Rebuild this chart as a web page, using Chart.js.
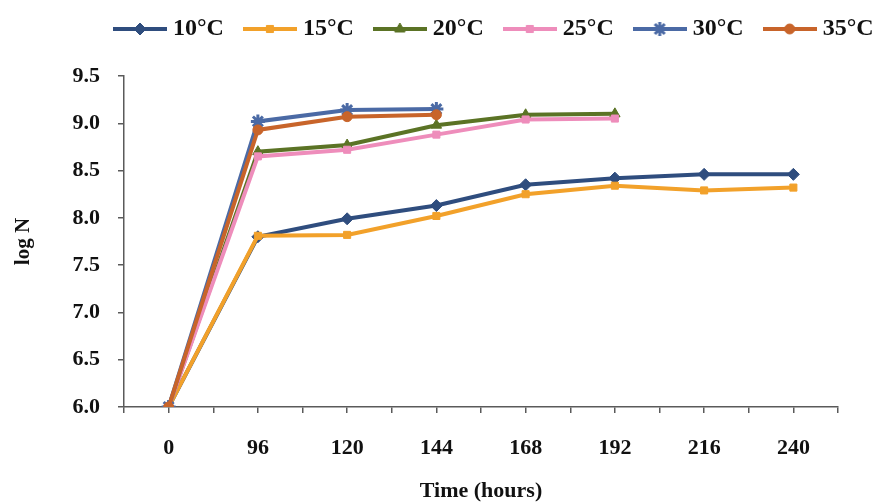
<!DOCTYPE html>
<html>
<head>
<meta charset="utf-8">
<script src="https://cdn.jsdelivr.net/npm/chart.js@4/dist/chart.umd.min.js"></script>
<style>
  body { margin: 0; background: #fff; }
  #wrap { width: 876px; height: 502px; }
</style>
</head>
<body>
<div id="wrap"><canvas id="growthChart"></canvas></div>
<script>
// sampling times (hours)
const hours = [`0`, `96`, `120`, `144`, `168`, `192`, `216`, `240`]

// log N per temperature
const temp10 = [6.00, 7.80, 7.99, 8.13, 8.35, 8.42, 8.46, 8.46]
const temp15 = [6.00, 7.81, 7.82, 8.02, 8.25, 8.34, 8.29, 8.32]
const temp20 = [6.00, 8.70, 8.77, 8.98, 9.09, 9.10]
const temp25 = [6.00, 8.65, 8.72, 8.88, 9.04, 9.05]
const temp30 = [6.00, 9.02, 9.14, 9.15]
const temp35 = [6.00, 8.93, 9.07, 9.09]

const seriesNames = [`10°C`, `15°C`, `20°C`, `25°C`, `30°C`, `35°C`]
const seriesValues = [temp10, temp15, temp20, temp25, temp30, temp35]
const seriesColors = [`#2f4d7e`, `#f2a12a`, `#5b7325`, `#ee8dbb`, `#4b6aa5`, `#c8642a`]
const seriesMarkers = [`rectRot`, `rect`, `triangle`, `rect`, `star`, `circle`]
const markerSizes = [6, 5, 6, 5, 7, 5]

const serif = `"Liberation Serif", "Times New Roman", serif`
const axisColor = `#5a5a5a`

// small line + marker swatch for each legend entry
function legendSwatch(color, marker, size) {
  const c = document.createElement(`canvas`)
  c.width = 54
  c.height = 20
  const ctx = c.getContext(`2d`)
  ctx.strokeStyle = color
  ctx.lineWidth = 4
  ctx.beginPath()
  ctx.moveTo(0, 10)
  ctx.lineTo(54, 10)
  ctx.stroke()
  ctx.fillStyle = color
  ctx.lineWidth = marker == `star` ? 3 : 1
  Chart.helpers.drawPoint(ctx, { pointStyle: marker, radius: size, rotation: 0, borderWidth: ctx.lineWidth }, 27, 10)
  return c
}

const datasets = seriesNames.map((name, i) => ({
  label: name,
  data: seriesValues[i].map((v, k) => ({ x: k, y: v })),
  borderColor: seriesColors[i],
  backgroundColor: seriesColors[i],
  borderWidth: 4,
  pointStyle: seriesMarkers[i],
  pointRadius: markerSizes[i],
  pointBorderWidth: seriesMarkers[i] == `star` ? 3 : 1,
  tension: 0,
  // later temperatures sit on top
  order: seriesNames.length - i
}))

const swatches = seriesNames.map((n, i) => legendSwatch(seriesColors[i], seriesMarkers[i], markerSizes[i]))

// nudge the legend row right and up
const legendOffset = {
  id: `legendOffset`,
  afterLayout(chart) {
    const l = chart.legend
    l.left += 94
    l.right += 94
    l.top -= 25
    l.bottom -= 25
  }
}

new Chart(document.querySelector(`#growthChart`).getContext(`2d`), {
  type: `line`,
  data: { datasets },
  plugins: [legendOffset],
  options: {
    responsive: true,
    maintainAspectRatio: false,
    animation: false,
    layout: { padding: { top: 17, right: 38, left: 0, bottom: 0 } },
    plugins: {
      tooltip: { enabled: false },
      legend: {
        position: `top`,
        align: `start`,
        labels: {
          usePointStyle: true,
          pointStyleWidth: 42,
          padding: 25,
          color: `#111`,
          font: { family: serif, size: 24, weight: `bold` },
          sort: (a, b) => a.datasetIndex - b.datasetIndex,
          generateLabels: chart => Chart.defaults.plugins.legend.labels.generateLabels(chart).map(item => {
            item.pointStyle = swatches[item.datasetIndex]
            return item
          })
        }
      }
    },
    scales: {
      x: {
        type: `linear`,
        min: -0.5,
        max: 7.5,
        afterFit: scale => { scale.height = 95 },
        ticks: {
          stepSize: 0.5,
          maxTicksLimit: 30,
          autoSkip: false,
          maxRotation: 0,
          padding: 22,
          color: `#111`,
          font: { family: serif, size: 22, weight: `bold` },
          callback: v => Number.isInteger(v) ? hours[v] : ``
        },
        grid: { drawOnChartArea: false, drawTicks: true, tickLength: 6, color: axisColor, lineWidth: 1.5 },
        border: { display: true, color: axisColor, width: 1.5 },
        title: {
          display: true,
          text: `Time (hours)`,
          color: `#111`,
          font: { family: serif, size: 22, weight: `bold` },
          padding: { top: 0, bottom: -3 }
        }
      },
      y: {
        min: 6,
        max: 9.5,
        afterFit: scale => { scale.width = 124 },
        ticks: {
          stepSize: 0.5,
          padding: 18,
          color: `#111`,
          font: { family: serif, size: 22, weight: `bold` },
          callback: v => v.toFixed(1)
        },
        grid: { drawOnChartArea: false, drawTicks: true, tickLength: 6, color: axisColor, lineWidth: 1.5 },
        border: { display: true, color: axisColor, width: 1.5 },
        title: {
          display: true,
          text: `log N`,
          color: `#111`,
          font: { family: serif, size: 21, weight: `bold` },
          padding: { top: 11, bottom: 0 }
        }
      }
    }
  }
})
</script>
</body>
</html>
